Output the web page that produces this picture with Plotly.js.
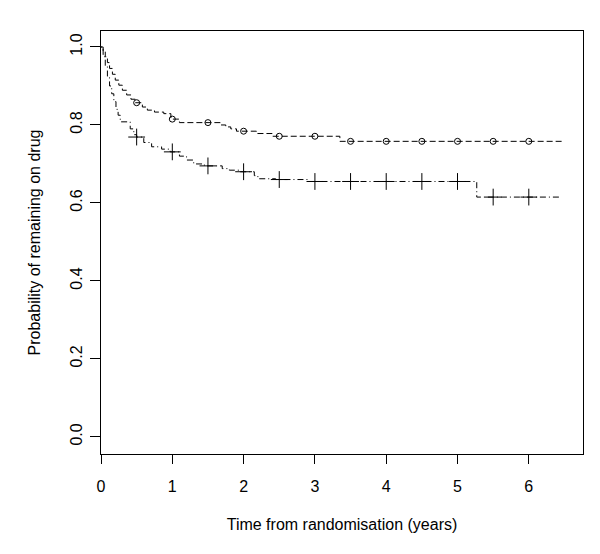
<!DOCTYPE html>
<html>
<head>
<meta charset="utf-8">
<script src="https://cdn.plot.ly/plotly-3.0.1.min.js"></script>
<style>html,body{margin:0;padding:0;background:#fff;}#chart{width:600px;height:554px;}</style>
</head>
<body>
<div id="chart"></div>
<script>
// Group A (dashed line, open circles)
const timesA = [0, 0.03, 0.06, 0.09, 0.12, 0.16, 0.2, 0.25, 0.3, 0.36, 0.42, 0.48, 0.58, 0.65, 0.75, 0.88, 0.98, 1.1, 1.68, 1.75, 1.82, 1.9, 2.18, 2.4, 3.35, 6.46];
const survA  = [1.0, 0.99, 0.975, 0.96, 0.945, 0.93, 0.915, 0.902, 0.889, 0.877, 0.866, 0.857, 0.846, 0.838, 0.833, 0.829, 0.815, 0.806, 0.8, 0.795, 0.79, 0.784, 0.778, 0.771, 0.758, 0.758];
// Group B (dash-dot line, plus marks)
const timesB = [0, 0.03, 0.06, 0.09, 0.12, 0.15, 0.18, 0.21, 0.24, 0.27, 0.41, 0.46, 0.5, 0.6, 0.71, 0.85, 0.97, 1.1, 1.2, 1.3, 1.45, 1.7, 1.8, 1.95, 2.15, 2.2, 2.45, 2.9, 5.27, 6.46];
const survB  = [1.0, 0.975, 0.95, 0.925, 0.9, 0.88, 0.86, 0.84, 0.825, 0.808, 0.79, 0.775, 0.769, 0.755, 0.744, 0.738, 0.731, 0.72, 0.71, 0.7, 0.695, 0.688, 0.684, 0.68, 0.67, 0.662, 0.66, 0.655, 0.615, 0.615];
// Mark times
const markTimesA = [0.5, 1, 1.5, 2, 2.5, 3, 3.5, 4, 4.5, 5, 5.5, 6];
const markTimesB = [0.5, 1, 1.5, 2, 2.5, 3, 3.5, 4, 4.5, 5, 5.5, 6];
const xTicks = [0, 1, 2, 3, 4, 5, 6];
const yTicks = [0, 0.2, 0.4, 0.6, 0.8, 1.0];
const yTickText = ["0.0", "0.2", "0.4", "0.6", "0.8", "1.0"];

function stepAt(times, surv, t) {
  let v = surv[0];
  for (let i = 0; i < times.length; i++) { if (times[i] <= t) v = surv[i]; }
  return v;
}

const font = "Liberation Sans, Arial, sans-serif";
const traces = [
  {x: timesA, y: survA, mode: 'lines', line: {shape: 'hv', color: '#000', width: 1, dash: '6px,3px'}, hoverinfo: 'skip'},
  {x: timesB, y: survB, mode: 'lines', line: {shape: 'hv', color: '#000', width: 1, dash: '1px,3px,6px,3px'}, hoverinfo: 'skip'},
  {x: markTimesA, y: markTimesA.map(t => stepAt(timesA, survA, t)), mode: 'markers',
   marker: {symbol: 'circle-open', size: 6, color: '#000', line: {width: 1, color: '#000'}}},
  {x: markTimesB, y: markTimesB.map(t => stepAt(timesB, survB, t)), mode: 'markers',
   marker: {symbol: 'cross-thin-open', size: 12, color: '#000', line: {width: 1, color: '#000'}}}
];

const layout = {
  width: 600, height: 554,
  margin: {l: 100.7, r: 17, t: 30.7, b: 100},
  paper_bgcolor: '#fff', plot_bgcolor: '#fff',
  showlegend: false,
  font: {family: font, size: 16, color: '#000'},
  xaxis: {
    range: [0, 6.76], tickvals: xTicks, ticktext: xTicks.map(String),
    showgrid: false, zeroline: false, showline: true, mirror: true,
    linecolor: '#000', linewidth: 1, ticks: 'outside', ticklen: 9, tickcolor: '#000', tickwidth: 1,
    ticklabelstandoff: 9,
    tickfont: {family: font, size: 16, color: '#000'},
    title: {text: 'Time from randomisation (years)', font: {family: font, size: 16, color: '#000'}, standoff: 24}
  },
  yaxis: {
    range: [-0.044, 1.041], tickvals: yTicks, ticktext: yTickText, tickangle: -90,
    showgrid: false, zeroline: false, showline: true, mirror: true,
    linecolor: '#000', linewidth: 1, ticks: 'outside', ticklen: 10, tickcolor: '#000', tickwidth: 1,
    ticklabelstandoff: 2,
    tickfont: {family: font, size: 16, color: '#000'},
    title: {text: 'Probability of remaining on drug', font: {family: font, size: 16, color: '#000'}, standoff: 22}
  }
};

Plotly.newPlot('chart', traces, layout, {displayModeBar: false, staticPlot: true});
</script>
</body>
</html>
